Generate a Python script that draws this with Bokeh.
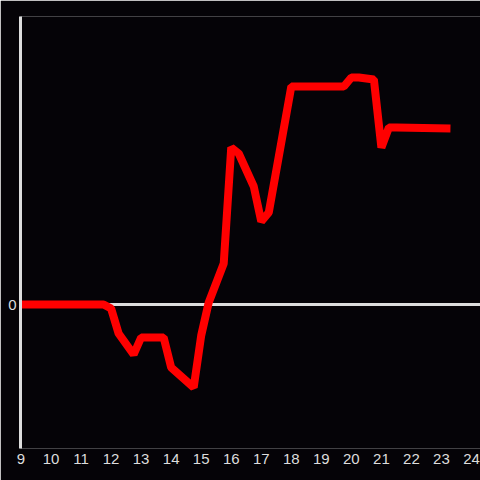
from bokeh.plotting import figure
from bokeh.models import Range1d, FixedTicker, Span
from bokeh.embed import file_html
from bokeh.resources import INLINE

hours = [9.0, 11.75, 12.0, 12.25, 12.75, 13.0, 13.75, 14.0, 14.75, 15.0, 15.25, 15.75,
         16.0, 16.25, 16.75, 17.0, 17.25, 18.0, 19.75, 20.0, 20.25, 20.75, 21.0, 21.25,
         21.5, 23.3]
values = [0.0, 0.0, -0.04, -0.29, -0.5, -0.33, -0.33, -0.63, -0.83, -0.31, 0.02, 0.41,
          1.57, 1.51, 1.18, 0.83, 0.92, 2.18, 2.18, 2.27, 2.27, 2.25, 1.57, 1.77,
          1.77, 1.76]
x_ticks = list(range(9, 25))

bg = "#050307"
fg = "#dddddd"

p = figure(width=480, height=480, output_backend="svg", toolbar_location=None,
           x_range=Range1d(8.983, 24.3), y_range=Range1d(-1.44, 2.88),
           min_border_left=20, min_border_right=0, min_border_top=16, min_border_bottom=32,
           background_fill_color=bg, border_fill_color=bg)
p.outline_line_color = None
p.outline_line_alpha = 0
p.grid.visible = False

p.add_layout(Span(location=0, dimension="width", line_color=fg, line_width=3,
                  level="underlay"))

p.line(hours, values, line_color="#ff0000", line_width=8)

p.xaxis.ticker = FixedTicker(ticks=x_ticks)
p.xaxis.axis_line_color = None
p.xaxis.major_tick_line_color = None
p.xaxis.major_tick_out = 0
p.xaxis.major_tick_in = 0
p.xaxis.minor_tick_line_color = None
p.xaxis.major_label_text_color = fg
p.xaxis.major_label_text_font = "Liberation Sans"
p.xaxis.major_label_text_font_size = "15px"
p.xaxis.major_label_standoff = 5

p.yaxis.ticker = FixedTicker(ticks=[0])
p.yaxis.axis_line_color = fg
p.yaxis.axis_line_width = 3
p.yaxis.major_tick_line_color = None
p.yaxis.major_tick_out = 0
p.yaxis.major_tick_in = 0
p.yaxis.minor_tick_line_color = None
p.yaxis.major_label_text_color = fg
p.yaxis.major_label_text_font = "Liberation Sans"
p.yaxis.major_label_text_font_size = "15px"
p.yaxis.major_label_standoff = 4

open("out.html", "w").write(file_html(p, INLINE))
